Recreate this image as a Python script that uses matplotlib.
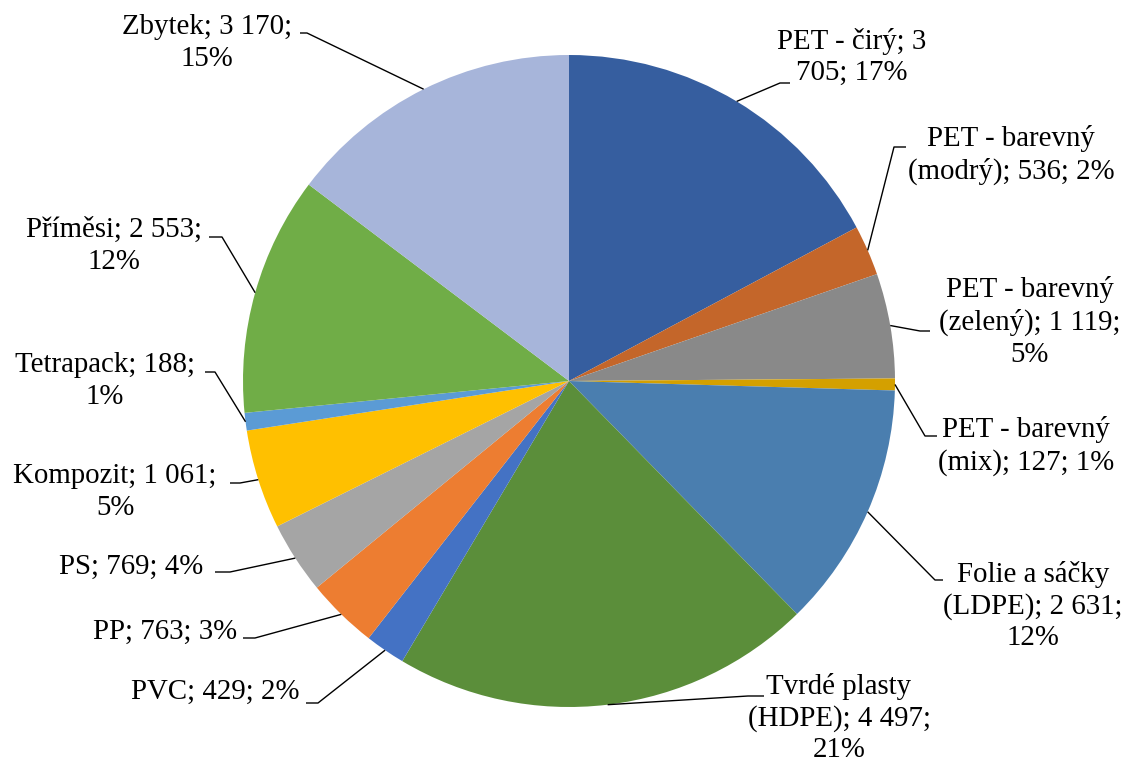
import matplotlib
matplotlib.use("Agg")
import matplotlib.pyplot as plt
import numpy as np

# Composition of sorted plastic waste
names = [
    "PET - čirý",
    "PET - barevný (modrý)",
    "PET - barevný (zelený)",
    "PET - barevný (mix)",
    "Folie a sáčky (LDPE)",
    "Tvrdé plasty (HDPE)",
    "PVC",
    "PP",
    "PS",
    "Kompozit",
    "Tetrapack",
    "Příměsi",
    "Zbytek",
]
values = [3705, 536, 1119, 127, 2631, 4497, 429, 763, 769, 1061, 188, 2553, 3170]
colors = [
    "#365E9F", "#C4662A", "#898989", "#D4A000", "#4A7EAF", "#5B8E3A",
    "#4472C4", "#ED7D31", "#A5A5A5", "#FFC000", "#5B9BD5", "#70AD47", "#A7B5DA",
]

W, H = 1127, 766
fig = plt.figure(figsize=(W / 100, H / 100), dpi=100)
ax = fig.add_axes([0, 0, 1, 1])

cx, cy, R = 569, 381, 326  # pie centre / radius in pixel units (y from top)


def fy(y):
    return H - y


ax.pie(values, colors=colors, startangle=90, counterclock=False,
       center=(cx, fy(cy)), radius=R, frame=True,
       wedgeprops=dict(linewidth=0))
ax.set_xlim(0, W)
ax.set_ylim(0, H)
ax.set_aspect("auto")
ax.axis("off")


# percentages rounded so that they add up to 100 (largest remainder)
def percents(vals):
    v = np.asarray(vals, float)
    raw = v / v.sum() * 100
    base = np.floor(raw).astype(int)
    rest = 100 - base.sum()
    order = np.argsort(-(raw - base))
    base[order[:rest]] += 1
    return base


pcts = percents(values)


def fmt(v):
    return f"{v:,}".replace(",", " ")


# label layout: word indices after which the line breaks, text centre,
# leader elbow and leader end (pixels from top-left)
breaks = [{3}, {2}, {2, 5}, {2}, {2, 5}, {1, 4}, set(), set(), set(),
          {2}, {1}, {2}, {2}]
text_pos = [(852, 57), (1011, 155), (1030, 322), (1026, 446), (1033, 606),
            (839, 718), (215, 692), (165, 632), (131, 567), (115, 492),
            (105, 381), (114, 246), (207, 43)]
elbows = [(780, 83), (894, 147), (920, 331), (925, 436), (935, 580),
          (748, 696), (318, 703), (255, 638), (230, 572), (240, 483),
          (215, 372), (222, 237), (307, 33)]
ends = [(790, 83), (906, 147), (930, 331), (937, 436), (943, 580),
        (764, 696), (306, 703), (243, 638), (215, 572), (230, 483),
        (205, 372), (209, 237), (300, 33)]

total = float(sum(values))
cum = 0.0
for i, v in enumerate(values):
    mid = cum + v / 2
    cum += v
    ang = np.deg2rad(90 - mid / total * 360)
    px, py = cx + R * np.cos(ang), cy - R * np.sin(ang)
    ex, ey = elbows[i]
    nx, ny = ends[i]
    ax.plot([px, ex, nx], [fy(py), fy(ey), fy(ny)], color="black",
            linewidth=1.0, solid_capstyle="butt", zorder=3)

    words = f"{names[i]}; {fmt(v)}; {pcts[i]}%".split(" ")
    txt = ""
    for k, w in enumerate(words):
        txt += w
        if k < len(words) - 1:
            txt += "\n" if k in breaks[i] else " "
    tx, ty = text_pos[i]
    ax.text(tx, fy(ty), txt, ha="center", va="center", multialignment="center",
            fontsize=20.8, family="Liberation Serif", color="black",
            linespacing=1.27, zorder=4)

fig.savefig("out.png", dpi=100, facecolor="white")
